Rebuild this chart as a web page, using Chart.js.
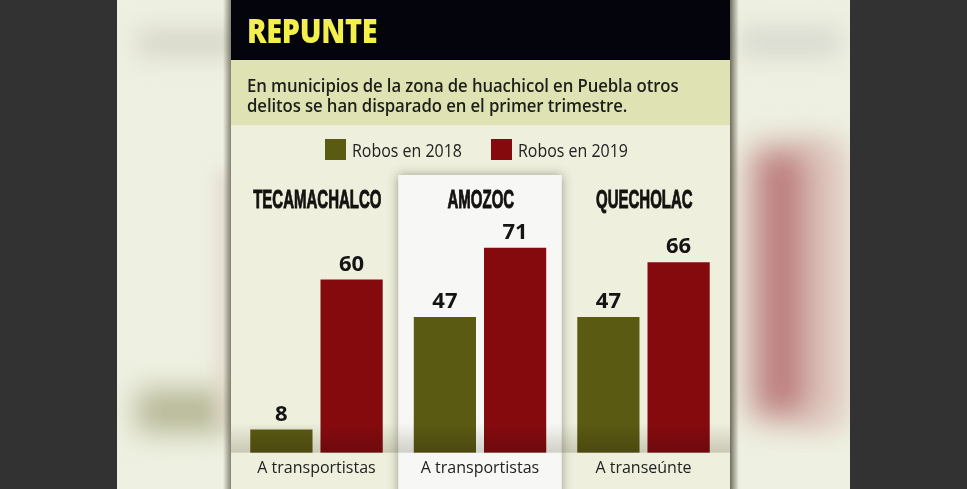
<!DOCTYPE html>
<html>
<head>
<meta charset="utf-8">
<script src="https://cdn.jsdelivr.net/npm/chart.js@4.4.1/dist/chart.umd.min.js"></script>
<style>
  html, body { margin: 0; padding: 0; }
  body { width: 967px; height: 489px; background: #323232; position: relative; overflow: hidden; font-family: "Open Sans", sans-serif; }
  .side { position: absolute; top: 0; height: 489px; background: #eef0e1; overflow: hidden; }
  .blob { position: absolute; }
  #card { position: absolute; left: 231px; top: 0; width: 499px; height: 489px; background: #eef0dd; }
  #head { position: absolute; left: 0; top: 0; width: 499px; height: 60px; background: #03040c; }
  #head span { position: absolute; left: 16px; top: 7.5px; font-size: 32px; font-weight: 800; color: #f3ef4c; transform: scale(0.9, 1.02); transform-origin: left top; letter-spacing: -0.3px; }
  #band { position: absolute; left: 0; top: 60px; width: 499px; height: 65px; background: #dfe3b4; }
  #band p { margin: 0; position: absolute; left: 16px; top: 15.3px; font-size: 18px; font-weight: 600; line-height: 20px; color: #1e1e1a; letter-spacing: -0.1px; transform: scaleX(0.93); transform-origin: left top; white-space: nowrap; }
  #legend { position: absolute; left: 0; top: 139px; width: 499px; height: 22px; }
  .item { position: absolute; top: 0; height: 22px; font-size: 19px; color: #222; line-height: 22px; }
  .item i { position: absolute; left: 0; top: 0; width: 21px; height: 21px; }
  .item span { position: absolute; left: 27px; top: 0; white-space: nowrap; transform: scaleX(0.84); transform-origin: left top; }
  #wrap { position: absolute; left: 0; top: 160px; width: 499px; height: 329px; }
</style>
</head>
<body>
<div class="side" style="left:117px;width:114px;">
  <div class="blob" style="left:20px;top:30px;width:110px;height:26px;background:#d5d5c8;filter:blur(12px);"></div>
  <div class="blob" style="left:20px;top:390px;width:90px;height:42px;background:#b6b796;filter:blur(14px);"></div>
  <div class="blob" style="left:100px;top:170px;width:14px;height:260px;background:#e0d3c8;filter:blur(8px);opacity:0.8;"></div>
  <div class="blob" style="left:106px;top:0;width:8px;height:489px;background:linear-gradient(90deg,rgba(120,110,90,0),rgba(90,85,70,0.7));"></div>
</div>
<div class="side" style="left:730px;width:120px;">
  <div class="blob" style="left:10px;top:28px;width:100px;height:28px;background:#d8d8cf;filter:blur(12px);"></div>
  <div class="blob" style="left:22px;top:148px;width:78px;height:270px;background:#bd8080;filter:blur(16px);"></div>
  <div class="blob" style="left:70px;top:140px;width:50px;height:290px;background:#e3d0c6;filter:blur(12px);opacity:0.6;"></div>
  <div class="blob" style="left:0;top:0;width:9px;height:489px;background:linear-gradient(90deg,rgba(80,75,60,0.8),rgba(120,110,90,0));"></div>
</div>
<div id="card">
  <div id="head"><span>REPUNTE</span></div>
  <div id="band"><p>En municipios de la zona de huachicol en Puebla otros<br>delitos se han disparado en el primer trimestre.</p></div>
  <div id="legend"></div>
  <div id="wrap"><canvas id="chart-1" width="499" height="329"></canvas></div>
</div>
<script>
// data
const municipios = ['TECAMACHALCO', 'AMOZOC', 'QUECHOLAC'];
const categorias = ['A transportistas', 'A transportistas', 'A transeúnte'];
const robos2018 = [8, 47, 47];
const robos2019 = [60, 71, 66];
const series = ['Robos en 2018', 'Robos en 2019'];
const colores = ['#5a5a12', '#850a0e'];

// legend built from the series
const legendPos = [94, 260];
series.forEach((s, i) => {
  let d = document.createElement('div');
  d.className = 'item';
  d.style.left = legendPos[i] + 'px';
  d.innerHTML = '<i style="background:' + colores[i] + '"></i><span>' + s + '</span>';
  document.getElementById('legend').appendChild(d);
});

const panels = {
  id: 'panels',
  beforeDraw(chart) {
    const ctx = chart.ctx;
    const x = chart.scales.x;
    const area = chart.chartArea;
    const w = (area.right - area.left) / municipios.length;
    // highlighted middle panel
    ctx.save();
    ctx.shadowColor = 'rgba(60,60,40,0.45)';
    ctx.shadowBlur = 10;
    ctx.fillStyle = '#f7f8f5';
    ctx.fillRect(x.getPixelForValue(1) - w / 2, area.top - 3.6, w, chart.height);
    ctx.restore();
    // shading near baseline
    ctx.save();
    let g = ctx.createLinearGradient(0, area.bottom - 30, 0, area.bottom);
    g.addColorStop(0, 'rgba(70,60,40,0)');
    g.addColorStop(1, 'rgba(70,60,40,0.22)');
    ctx.fillStyle = g;
    ctx.fillRect(0, area.bottom - 30, chart.width, 30);
    ctx.restore();
  },
  beforeDatasetsDraw(chart) {
    const ctx = chart.ctx;
    const x = chart.scales.x;
    const area = chart.chartArea;
    // panel titles, condensed
    ctx.save();
    ctx.fillStyle = '#141210';
    ctx.strokeStyle = '#141210';
    ctx.lineWidth = 0.9;
    ctx.textAlign = 'center';
    ctx.textBaseline = 'alphabetic';
    ctx.font = 'bold 25px "Liberation Sans Narrow", "Liberation Sans", sans-serif';
    municipios.forEach((m, i) => {
      ctx.save();
      ctx.translate(x.getPixelForValue(i) + 0.8, area.top + 29.2);
      ctx.scale(0.6, 1);
      ctx.fillText(m, 0, 0);
      ctx.strokeText(m, 0, 0);
      ctx.restore();
    });
    ctx.restore();
  },
  afterDatasetsDraw(chart) {
    const ctx = chart.ctx;
    const area = chart.chartArea;
    // shading over the bar bottoms
    ctx.save();
    let g = ctx.createLinearGradient(0, area.bottom - 28, 0, area.bottom);
    g.addColorStop(0, 'rgba(30,10,10,0)');
    g.addColorStop(1, 'rgba(30,10,10,0.22)');
    ctx.fillStyle = g;
    chart.data.datasets.forEach((ds, di) => {
      chart.getDatasetMeta(di).data.forEach(bar => {
        ctx.fillRect(bar.x - bar.width / 2, area.bottom - 28, bar.width, 28);
      });
    });
    ctx.restore();
    // value labels
    ctx.save();
    ctx.fillStyle = '#141414';
    ctx.textAlign = 'center';
    ctx.textBaseline = 'alphabetic';
    ctx.font = 'bold 22px "Open Sans", sans-serif';
    chart.data.datasets.forEach((ds, di) => {
      chart.getDatasetMeta(di).data.forEach((bar, i) => {
        ctx.fillText(ds.data[i], bar.x, bar.y - 9);
      });
    });
    ctx.restore();
  }
};

const ctx = document.getElementById('chart-1').getContext('2d');
const chart_1 = new Chart(ctx, {
  type: 'bar',
  data: {
    labels: categorias,
    datasets: [
      { label: series[0], data: robos2018, backgroundColor: colores[0] },
      { label: series[1], data: robos2019, backgroundColor: colores[1] }
    ]
  },
  options: {
    responsive: false,
    animation: false,
    devicePixelRatio: 1,
    categoryPercentage: 0.859,
    barPercentage: 0.886,
    layout: { padding: { left: 3.75, right: 4.75, top: 18.6, bottom: 0 } },
    scales: {
      x: {
        grid: { display: false, drawTicks: false },
        border: { display: false },
        ticks: { color: '#222', font: { family: '"Open Sans", sans-serif', size: 16 }, padding: 6.5, maxRotation: 0, autoSkip: false },
        afterFit(scale) { scale.height = 36.3; }
      },
      y: { display: false, min: 0, max: 95 }
    },
    plugins: {
      legend: { display: false },
      tooltip: { enabled: false }
    }
  },
  plugins: [panels]
});
</script>
</body>
</html>
